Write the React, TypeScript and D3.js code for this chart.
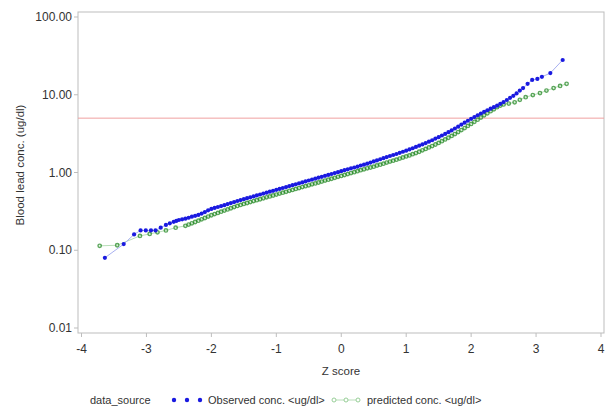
import React from 'react';
import * as d3 from 'd3';

// observed blood lead, z score vs concentration (ug/dl)
const obsZ = [
  -3.64, -3.35, -3.19, -3.09, -3.01, -2.93, -2.86, -2.78, -2.70, -2.64, -2.58, -2.54,
  -2.50, -2.45, -2.40, -2.35, -2.30, -2.25, -2.20, -2.15, -2.10, -2.05,
  -2.00, -1.95, -1.90, -1.85, -1.80, -1.75, -1.70, -1.65, -1.60, -1.55,
  -1.50, -1.45, -1.40, -1.35, -1.30, -1.25, -1.20, -1.15, -1.10, -1.05,
  -1.00, -0.95, -0.90, -0.85, -0.80, -0.75, -0.70, -0.65, -0.60, -0.55,
  -0.50, -0.45, -0.40, -0.35, -0.30, -0.25, -0.20, -0.15, -0.10, -0.05,
  0.00, 0.05, 0.10, 0.15, 0.20, 0.25, 0.30, 0.35, 0.40, 0.45,
  0.50, 0.55, 0.60, 0.65, 0.70, 0.75, 0.80, 0.85, 0.90, 0.95,
  1.00, 1.05, 1.10, 1.15, 1.20, 1.25, 1.30, 1.35, 1.40, 1.45,
  1.50, 1.55, 1.60, 1.65, 1.70, 1.75, 1.80, 1.85, 1.90, 1.95,
  2.00, 2.05, 2.10, 2.15, 2.20, 2.25, 2.30, 2.35, 2.40, 2.45,
  2.50, 2.55, 2.60, 2.65, 2.70, 2.75, 2.80, 2.87, 2.94, 3.02, 3.09, 3.22, 3.41,
];
const obsConc = [
  0.080, 0.120, 0.160, 0.180, 0.180, 0.180, 0.180, 0.195, 0.212, 0.222, 0.232, 0.238,
  0.245, 0.250, 0.255, 0.262, 0.270, 0.277, 0.285, 0.296, 0.310, 0.326,
  0.340, 0.350, 0.360, 0.370, 0.380, 0.392, 0.404, 0.417, 0.430, 0.442,
  0.454, 0.467, 0.480, 0.493, 0.507, 0.521, 0.536, 0.551, 0.566, 0.582,
  0.598, 0.615, 0.632, 0.650, 0.668, 0.687, 0.706, 0.726, 0.746, 0.767,
  0.789, 0.811, 0.834, 0.857, 0.881, 0.906, 0.931, 0.957, 0.984, 1.01,
  1.04, 1.07, 1.10, 1.13, 1.16, 1.19, 1.23, 1.26, 1.30, 1.34,
  1.39, 1.43, 1.48, 1.53, 1.58, 1.63, 1.68, 1.73, 1.79, 1.85,
  1.91, 1.98, 2.05, 2.13, 2.21, 2.30, 2.39, 2.49, 2.60, 2.73,
  2.85, 2.99, 3.13, 3.30, 3.48, 3.68, 3.89, 4.13, 4.37, 4.63,
  4.90, 5.17, 5.45, 5.74, 6.03, 6.32, 6.62, 6.92, 7.24, 7.64,
  8.04, 8.56, 9.12, 9.7, 10.4, 11.3, 12.2, 13.8, 15.5, 16.0, 17.0, 19.0, 28.0,
];

// predicted concentration
const predZ = [
  -3.72, -3.45, -3.10, -2.95, -2.83, -2.70, -2.55,
  -2.40, -2.35, -2.30, -2.25, -2.20, -2.15, -2.10, -2.05,
  -2.00, -1.95, -1.90, -1.85, -1.80, -1.75, -1.70, -1.65, -1.60, -1.55,
  -1.50, -1.45, -1.40, -1.35, -1.30, -1.25, -1.20, -1.15, -1.10, -1.05,
  -1.00, -0.95, -0.90, -0.85, -0.80, -0.75, -0.70, -0.65, -0.60, -0.55,
  -0.50, -0.45, -0.40, -0.35, -0.30, -0.25, -0.20, -0.15, -0.10, -0.05,
  0.00, 0.05, 0.10, 0.15, 0.20, 0.25, 0.30, 0.35, 0.40, 0.45,
  0.50, 0.55, 0.60, 0.65, 0.70, 0.75, 0.80, 0.85, 0.90, 0.95,
  1.00, 1.05, 1.10, 1.15, 1.20, 1.25, 1.30, 1.35, 1.40, 1.45,
  1.50, 1.55, 1.60, 1.65, 1.70, 1.75, 1.80, 1.85, 1.90, 1.95,
  2.00, 2.05, 2.10, 2.15, 2.20, 2.25, 2.30, 2.35, 2.40, 2.45, 2.50,
  2.58, 2.67, 2.75, 2.84, 2.95, 3.06, 3.16, 3.27, 3.37, 3.47,
];
const predConc = [
  0.114, 0.116, 0.153, 0.162, 0.170, 0.180, 0.195,
  0.206, 0.214, 0.222, 0.231, 0.240, 0.250, 0.260, 0.271,
  0.282, 0.292, 0.302, 0.313, 0.324, 0.335, 0.347, 0.359, 0.372, 0.383,
  0.394, 0.405, 0.417, 0.429, 0.441, 0.453, 0.466, 0.479, 0.492, 0.506,
  0.520, 0.535, 0.550, 0.565, 0.581, 0.597, 0.614, 0.631, 0.649, 0.667,
  0.685, 0.704, 0.724, 0.744, 0.765, 0.787, 0.809, 0.831, 0.855, 0.879,
  0.904, 0.929, 0.955, 0.982, 1.01, 1.04, 1.07, 1.10, 1.13, 1.16,
  1.19, 1.23, 1.26, 1.30, 1.34, 1.38, 1.42, 1.46, 1.51, 1.56,
  1.61, 1.66, 1.72, 1.78, 1.85, 1.93, 2.01, 2.10, 2.19, 2.29,
  2.40, 2.53, 2.66, 2.80, 2.95, 3.12, 3.31, 3.51, 3.73, 3.97,
  4.22, 4.49, 4.78, 5.10, 5.43, 5.78, 6.14, 6.50, 6.92, 7.25, 7.50,
  7.70, 8.0, 8.6, 9.3, 9.9, 10.5, 11.3, 12.2, 13.0, 13.8,
];

const xTicks = [-4, -3, -2, -1, 0, 1, 2, 3, 4];
const yTicks = [0.01, 0.1, 1, 10, 100];
const refLevel = 5;

const W = 614;
const H = 409;
const frame = { left: 78, right: 604, top: 12, bottom: 333 };
const FONT = '"Liberation Sans", Arial, sans-serif';
const TEXT = '#333';
const GRID = '#bdbdbd';
const BLUE = '#1a1ae0';
const GREEN = '#268a26';

export default function App()
{
  const x = d3.scaleLinear().domain([-4, 4]).range([81.5, 601]);
  const y = d3.scaleLog().domain([0.01, 100]).range([328, 17]);

  const obs = obsZ.map((z, i) => [z, obsConc[i]] as [number, number]);
  const pred = predZ.map((z, i) => [z, predConc[i]] as [number, number]);

  const line = d3.line<[number, number]>()
    .x((d) => x(d[0]))
    .y((d) => y(d[1]));

  return (
    <svg width={ W } height={ H } style={ { position: 'fixed', left: 0, top: 0, background: '#fff' } }
      fontFamily={ FONT }>
      <rect x={ frame.left } y={ frame.top } width={ frame.right - frame.left }
        height={ frame.bottom - frame.top } fill="none" stroke={ GRID } strokeWidth={ 1 } />

      { yTicks.map((t) => (
        <g key={ 'y' + t }>
          <line x1={ frame.left - 4 } x2={ frame.left } y1={ y(t) } y2={ y(t) } stroke={ GRID } />
          <text x={ frame.left - 6 } y={ y(t) } dy="0.35em" textAnchor="end" fontSize={ 12 } fill={ TEXT }>
            { t.toFixed(2) }
          </text>
        </g>
      )) }
      { xTicks.map((t) => (
        <g key={ 'x' + t }>
          <line x1={ x(t) } x2={ x(t) } y1={ frame.bottom } y2={ frame.bottom + 4 } stroke={ GRID } />
          <text x={ x(t) } y={ 353 } textAnchor="middle" fontSize={ 12 } fill={ TEXT }>{ t }</text>
        </g>
      )) }

      <text x={ 341 } y={ 375 } textAnchor="middle" fontSize={ 11.5 } fill={ TEXT }>Z score</text>
      <text transform="translate(24,165) rotate(-90)" textAnchor="middle" fontSize={ 11.5 } fill={ TEXT }>
        Blood lead conc. (ug/dl)
      </text>

      <line x1={ frame.left } x2={ frame.right } y1={ y(refLevel) } y2={ y(refLevel) }
        stroke="#f0a0a0" strokeWidth={ 1 } />

      <path d={ line(pred) ?? '' } fill="none" stroke="#b8deb8" strokeWidth={ 1 } />
      { pred.map((d, i) => (
        <circle key={ 'p' + i } cx={ x(d[0]) } cy={ y(d[1]) } r={ 1.7 } fill="none"
          stroke={ GREEN } strokeWidth={ 1.4 } strokeOpacity={ 0.75 } />
      )) }

      <path d={ line(obs) ?? '' } fill="none" stroke="#a8b0f0" strokeWidth={ 1 } />
      { obs.map((d, i) => (
        <circle key={ 'o' + i } cx={ x(d[0]) } cy={ y(d[1]) } r={ 2.1 } fill={ BLUE } />
      )) }

      <g fontSize={ 11 } fill={ TEXT }>
        <text x={ 90 } y={ 404 }>data_source</text>
        { [174, 187, 200].map((cx) => (
          <circle key={ 'lb' + cx } cx={ cx } cy={ 400 } r={ 2.2 } fill={ BLUE } />
        )) }
        <text x={ 208 } y={ 404 }>Observed conc. &lt;ug/dl&gt;</text>
        <line x1={ 334 } x2={ 358 } y1={ 400 } y2={ 400 } stroke="#b8deb8" />
        { [334, 346, 358].map((cx) => (
          <circle key={ 'lg' + cx } cx={ cx } cy={ 400 } r={ 2 } fill="#fff" stroke="#8cc88c" strokeWidth={ 0.9 } />
        )) }
        <text x={ 367 } y={ 404 }>predicted conc. &lt;ug/dl&gt;</text>
      </g>
    </svg>
  );
}
